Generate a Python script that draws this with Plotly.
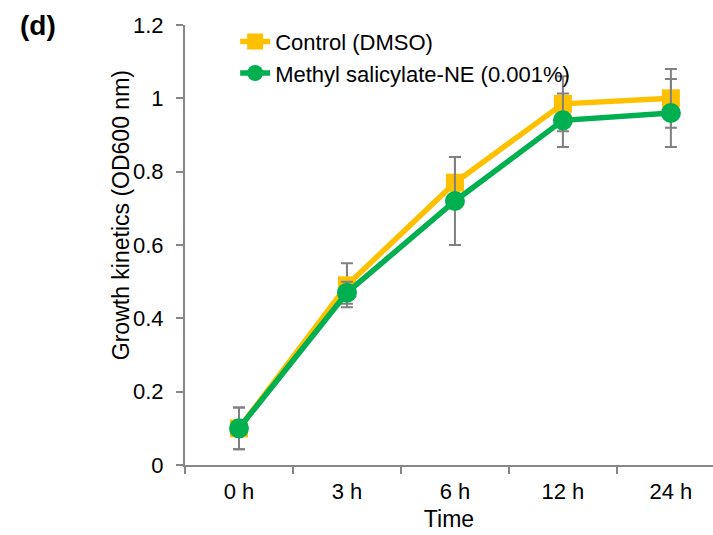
import plotly.graph_objects as go

times = ["0 h", "3 h", "6 h", "12 h", "24 h"]
control = [0.10, 0.49, 0.77, 0.985, 1.00]
control_err = [0.057, 0.06, 0.07, 0.075, 0.08]
methyl = [0.10, 0.47, 0.72, 0.94, 0.96]
methyl_err = [0.057, 0.03, 0.12, 0.073, 0.093]
y_ticks = [0, 0.2, 0.4, 0.6, 0.8, 1, 1.2]
y_tick_text = ["0", "0.2", "0.4", "0.6", "0.8", "1", "1.2"]

ORANGE = "#FFC000"
GREEN = "#00B050"
GRAY = "#868686"
FONT = "Liberation Sans, Arial, sans-serif"

fig = go.Figure()
fig.add_trace(go.Scatter(
    x=times, y=control, name="Control (DMSO)", mode="lines+markers",
    line=dict(color=ORANGE, width=5.5),
    marker=dict(symbol="square", size=18, color=ORANGE),
    error_y=dict(type="data", array=control_err, visible=True, color="#808080", thickness=2, width=6),
))
fig.add_trace(go.Scatter(
    x=times, y=methyl, name="Methyl salicylate-NE (0.001%)", mode="lines+markers",
    line=dict(color=GREEN, width=5.5),
    marker=dict(symbol="circle", size=20, color=GREEN),
    error_y=dict(type="data", array=methyl_err, visible=True, color="#808080", thickness=2, width=6),
))

fig.update_layout(
    width=713, height=535,
    margin=dict(l=185, r=0, t=25, b=70),
    paper_bgcolor="white", plot_bgcolor="white",
    font=dict(family=FONT, size=22, color="black"),
    showlegend=True,
    legend=dict(x=0.095, y=1.01, xanchor="left", yanchor="top",
                bgcolor="rgba(0,0,0,0)", font=dict(size=22), tracegroupgap=0),
    xaxis=dict(
        type="category", range=[-0.5, 4.39],
        showline=True, linecolor=GRAY, linewidth=2,
        ticks="outside", tickson="boundaries", ticklen=7, tickcolor=GRAY, tickwidth=2,
        showgrid=False, zeroline=False, ticklabelstandoff=6,
        title=dict(text="Time", standoff=7, font=dict(size=23)),
        tickfont=dict(size=22),
    ),
    yaxis=dict(
        range=[0, 1.2], tickvals=y_ticks, ticktext=y_tick_text,
        showline=True, linecolor=GRAY, linewidth=2,
        ticks="outside", ticklen=7, tickcolor=GRAY, tickwidth=2,
        showgrid=False, zeroline=False, ticklabelstandoff=8,
        tickfont=dict(size=22),
    ),
    annotations=[
        dict(text="<b>(d)</b>", x=-0.316, y=1.0, xref="paper", yref="paper",
             xanchor="left", yanchor="middle", showarrow=False, font=dict(size=28)),
        dict(text="Growth kinetics (OD600 nm)", x=-0.121, y=0.568, xref="paper", yref="paper",
             xanchor="center", yanchor="middle", textangle=-90, showarrow=False,
             font=dict(size=23)),
    ],
)

fig.write_html("out.html")
